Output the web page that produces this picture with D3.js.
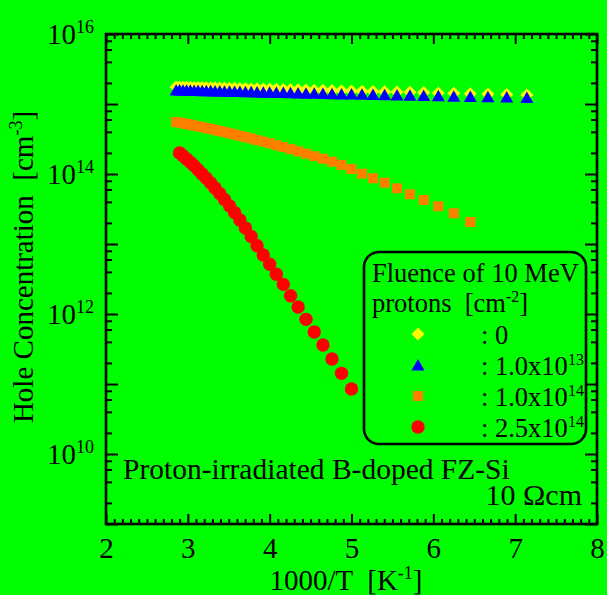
<!DOCTYPE html>
<html>
<head>
<meta charset="utf-8">
<script src="https://cdn.jsdelivr.net/npm/d3@7"></script>
<style>
  html, body { margin: 0; padding: 0; background: #00ff00; }
  svg { display: block; font-family: "Liberation Serif", "Times New Roman", serif; }
  text { white-space: pre; }
</style>
</head>
<body>
<svg id="chart" width="607" height="595"></svg>
<script>
// 1000/T values (K^-1), shared by all series
const invT = [2.857, 2.899, 2.941, 2.985, 3.030, 3.077, 3.125, 3.175, 3.226, 3.279,
  3.333, 3.390, 3.448, 3.509, 3.571, 3.636, 3.704, 3.774, 3.846, 3.922,
  4.000, 4.082, 4.167, 4.255, 4.348, 4.444, 4.545, 4.651, 4.762, 4.878,
  5.000, 5.128, 5.263, 5.405, 5.556, 5.714, 5.882, 6.061, 6.250, 6.452,
  6.667, 6.897, 7.143];

// hole concentration [cm^-3]
const holeUnirr = [1.750e15, 1.745e15, 1.741e15, 1.736e15, 1.732e15, 1.727e15, 1.721e15, 1.716e15, 1.711e15, 1.705e15,
  1.700e15, 1.694e15, 1.688e15, 1.682e15, 1.675e15, 1.668e15, 1.662e15, 1.654e15, 1.647e15, 1.639e15,
  1.632e15, 1.624e15, 1.615e15, 1.606e15, 1.597e15, 1.588e15, 1.578e15, 1.568e15, 1.557e15, 1.546e15,
  1.535e15, 1.523e15, 1.511e15, 1.498e15, 1.484e15, 1.470e15, 1.455e15, 1.438e15, 1.422e15, 1.404e15,
  1.386e15, 1.367e15, 1.346e15];
const hole1e13 = [1.585e15, 1.580e15, 1.576e15, 1.571e15, 1.566e15, 1.561e15, 1.556e15, 1.551e15, 1.546e15, 1.540e15,
  1.535e15, 1.529e15, 1.523e15, 1.517e15, 1.511e15, 1.504e15, 1.498e15, 1.491e15, 1.484e15, 1.477e15,
  1.470e15, 1.462e15, 1.455e15, 1.447e15, 1.439e15, 1.430e15, 1.422e15, 1.413e15, 1.404e15, 1.394e15,
  1.385e15, 1.375e15, 1.364e15, 1.353e15, 1.342e15, 1.331e15, 1.319e15, 1.307e15, 1.294e15, 1.281e15,
  1.268e15, 1.254e15, 1.240e15];
const hole1e14 = [5.53e14, 5.42e14, 5.30e14, 5.18e14, 5.06e14, 4.93e14, 4.80e14, 4.67e14, 4.53e14, 4.40e14,
  4.26e14, 4.11e14, 3.97e14, 3.82e14, 3.67e14, 3.52e14, 3.37e14, 3.21e14, 3.05e14, 2.90e14,
  2.74e14, 2.58e14, 2.43e14, 2.27e14, 2.11e14, 1.95e14, 1.80e14, 1.65e14, 1.50e14, 1.35e14,
  1.18e14, 1.01e14, 8.69e13, 7.52e13, 6.25e13, 5.13e13, 4.26e13, 3.46e13, 2.75e13, 2.06e13];
// starts at the second temperature (345 K)
const hole25e14 = [2.00e14, 1.82e14, 1.64e14, 1.47e14, 1.31e14, 1.15e14, 1.00e14, 8.69e13, 7.43e13,
  6.30e13, 5.25e13, 4.33e13, 3.51e13, 2.81e13, 2.20e13, 1.69e13, 1.28e13, 9.46e12, 6.97e12,
  5.13e12, 3.69e12, 2.65e12, 1.82e12, 1.26e12, 8.39e11, 5.53e11, 3.61e11, 2.28e11, 1.42e11, 8.49e10];

const xTicks = [2, 3, 4, 5, 6, 7, 8];
const yDecades = [1e9, 1e10, 1e11, 1e12, 1e13, 1e14, 1e15, 1e16];
const yLabelExp = [10, 12, 14, 16];

const seriesList = [
  { name: "unirr", label: ": 0", sup: "", color: "#ffff00", shape: "diamond", x: invT, y: holeUnirr },
  { name: "f13", label: ": 1.0x10", sup: "13", color: "#0000ff", shape: "triangle", x: invT, y: hole1e13 },
  { name: "f14", label: ": 1.0x10", sup: "14", color: "#ff8000", shape: "square", x: invT.slice(0, hole1e14.length), y: hole1e14 },
  { name: "f25", label: ": 2.5x10", sup: "14", color: "#ff0000", shape: "circle", x: invT.slice(1, 1 + hole25e14.length), y: hole25e14 }
];

const svg = d3.select("#chart");
const plotLeft = 106, plotRight = 597, plotTop = 34, plotBottom = 524;

const x = d3.scaleLinear().domain([2, 8]).range([plotLeft, plotRight]);
const y = d3.scaleLog().domain([1e9, 1e16]).range([plotBottom, plotTop]);

// marker shapes, centred on the point
function markerPath(shape) {
  if (shape === "diamond") return "M0,-6.5L6.5,0L0,6.5L-6.5,0Z";
  if (shape === "triangle") return "M0,-6L6.5,5.5L-6.5,5.5Z";
  if (shape === "square") return "M-5,-5H5V5H-5Z";
  return d3.symbol(d3.symbolCircle, Math.PI * 6.7 * 6.7)();
}

// minor tick positions
const xMinor = d3.range(20, 81).map(d => d / 10).filter(d => d % 1 !== 0);
const yMinor = [];
yDecades.slice(0, -1).forEach(d => [2, 4, 6, 8].forEach(m => yMinor.push(m * d)));

function styleAxis(g) {
  g.select(".domain").remove();
  g.selectAll(".tick line").attr("stroke", "#000").attr("stroke-width", 2);
}

// bottom
svg.append("g").attr("transform", `translate(0,${plotBottom})`)
  .call(d3.axisBottom(x).tickValues(xMinor).tickSize(-5).tickFormat(""))
  .call(styleAxis);
svg.append("g").attr("transform", `translate(0,${plotBottom})`)
  .call(d3.axisBottom(x).tickValues(xTicks).tickSize(-10).tickPadding(13).tickFormat(d3.format("d")))
  .call(styleAxis)
  .selectAll("text").attr("font-size", 29).attr("fill", "#000").attr("font-family", "Liberation Serif");
// top
svg.append("g").attr("transform", `translate(0,${plotTop})`)
  .call(d3.axisTop(x).tickValues(xMinor).tickSize(-5).tickFormat(""))
  .call(styleAxis);
svg.append("g").attr("transform", `translate(0,${plotTop})`)
  .call(d3.axisTop(x).tickValues(xTicks).tickSize(-10).tickFormat(""))
  .call(styleAxis);
// left
svg.append("g").attr("transform", `translate(${plotLeft},0)`)
  .call(d3.axisLeft(y).tickValues(yMinor).tickSize(-6).tickFormat(""))
  .call(styleAxis);
const yAxisG = svg.append("g").attr("transform", `translate(${plotLeft},0)`)
  .call(d3.axisLeft(y).tickValues(yDecades).tickSize(-12).tickPadding(12).tickFormat(""))
  .call(styleAxis);
// right
svg.append("g").attr("transform", `translate(${plotRight},0)`)
  .call(d3.axisRight(y).tickValues(yMinor).tickSize(-6).tickFormat(""))
  .call(styleAxis);
svg.append("g").attr("transform", `translate(${plotRight},0)`)
  .call(d3.axisRight(y).tickValues(yDecades).tickSize(-12).tickFormat(""))
  .call(styleAxis);

// y tick labels 10^n
yAxisG.selectAll(".tick").each(function(d) {
  const e = Math.round(Math.log10(d));
  if (!yLabelExp.includes(e)) return;
  const t = d3.select(this).select("text")
    .attr("x", -12).attr("dy", "0.33em")
    .attr("font-size", 29).attr("fill", "#000").attr("font-family", "Liberation Serif");
  t.append("tspan").text("10");
  t.append("tspan").attr("font-size", 18).attr("dy", -11).text(e);
});

// frame
svg.append("rect")
  .attr("x", plotLeft).attr("y", plotTop)
  .attr("width", plotRight - plotLeft).attr("height", plotBottom - plotTop)
  .attr("fill", "none").attr("stroke", "#000").attr("stroke-width", 2.6);

// data
seriesList.forEach(s => {
  svg.append("g").attr("class", "series " + s.name)
    .selectAll("path")
    .data(s.y.map((v, i) => [s.x[i], v]))
    .enter().append("path")
    .attr("transform", d => `translate(${x(d[0])},${y(d[1])})`)
    .attr("d", markerPath(s.shape))
    .attr("fill", s.color);
});

// axis titles
const xTitle = svg.append("text").attr("x", 346).attr("y", 590)
  .attr("text-anchor", "middle").attr("font-size", 29);
xTitle.append("tspan").text("1000/T  [K");
xTitle.append("tspan").attr("font-size", 18).attr("dy", -11).text("-1");
xTitle.append("tspan").attr("dy", 11).text("]");

const yTitle = svg.append("text").attr("transform", "translate(33,267) rotate(-90)")
  .attr("text-anchor", "middle").attr("font-size", 29);
yTitle.append("tspan").text("Hole Concentration  [cm");
yTitle.append("tspan").attr("font-size", 18).attr("dy", -11).text("-3");
yTitle.append("tspan").attr("dy", 11).text("]");

// annotation
svg.append("text").attr("x", 123).attr("y", 479).attr("font-size", 29.5)
  .text("Proton-irradiated B-doped FZ-Si");
svg.append("text").attr("x", 582).attr("y", 505).attr("font-size", 30)
  .attr("text-anchor", "end").text("10 \u03A9cm");

// legend
const legend = svg.append("g").attr("class", "legend");
legend.append("rect")
  .attr("x", 364).attr("y", 252).attr("width", 222).attr("height", 192)
  .attr("rx", 15).attr("fill", "none").attr("stroke", "#000").attr("stroke-width", 2.6);
legend.append("text").attr("x", 372).attr("y", 282).attr("font-size", 26.5).text("Fluence of 10 MeV");
const lt2 = legend.append("text").attr("x", 372).attr("y", 312).attr("font-size", 26.5);
lt2.append("tspan").text("protons  [cm");
lt2.append("tspan").attr("font-size", 16).attr("dy", -10).text("-2");
lt2.append("tspan").attr("dy", 10).text("]");

const rows = legend.selectAll(".legend-entry")
  .data(seriesList).enter().append("g")
  .attr("class", "legend-entry")
  .attr("transform", (d, i) => `translate(0,${334 + i * 31})`);
rows.append("path")
  .attr("transform", "translate(418,0)")
  .attr("d", d => markerPath(d.shape))
  .attr("fill", d => d.color);
rows.append("text").attr("x", 481).attr("y", 10).attr("font-size", 26.5)
  .each(function(d) {
    const t = d3.select(this);
    t.append("tspan").text(d.label);
    if (d.sup) t.append("tspan").attr("font-size", 16).attr("dy", -10).text(d.sup);
  });
</script>
</body>
</html>
